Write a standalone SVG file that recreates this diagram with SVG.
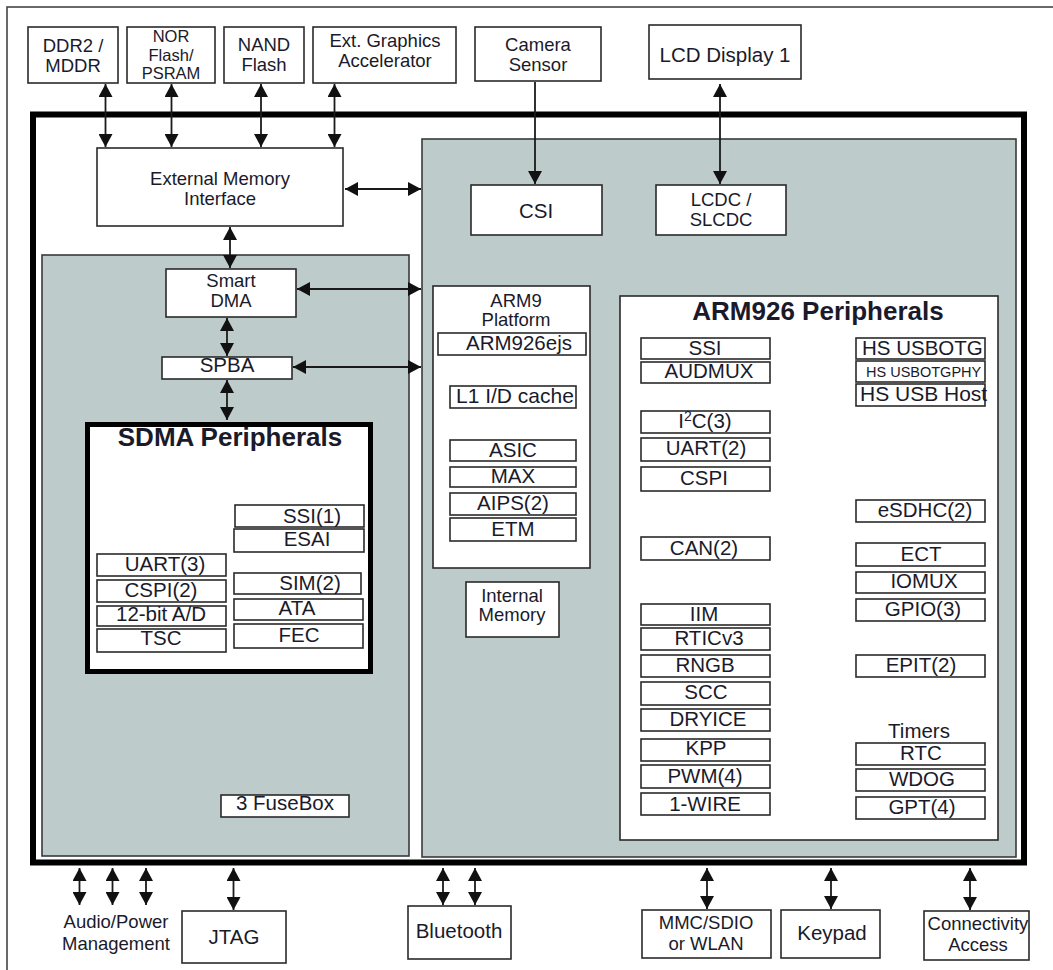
<svg xmlns="http://www.w3.org/2000/svg" width="1053" height="970" viewBox="0 0 1053 970">
<style>
.box{fill:#fff;stroke:#2a2a2a;stroke-width:1.6}
.panel{fill:#becbcb;stroke:#3a3a3a;stroke-width:1.6}
.t{font-family:"Liberation Sans",Arial,Helvetica,sans-serif;font-size:20.5px;fill:#1a1a2a;text-anchor:middle}
.m{font-size:18.5px}
.n{font-size:16.5px}
.s{text-anchor:start}
.b{font-weight:bold;font-size:26px}
.c{stroke:#1a1a1a;stroke-width:1.8;fill:none}
.bi{marker-start:url(#ah);marker-end:url(#ah)}
.one{marker-end:url(#ah)}
</style>
<defs>
<marker id="ah" viewBox="0 0 13 14" refX="13" refY="7" markerWidth="13" markerHeight="14" markerUnits="userSpaceOnUse" orient="auto-start-reverse">
<path d="M0,0 L13,7 L0,14 Z" fill="#111"/>
</marker>
</defs>
<rect width="1053" height="970" fill="#fff"/>
<rect x="7" y="7" width="1080" height="1000" fill="none" stroke="#444" stroke-width="1.6"/>

<g id="chip">
<rect x="33" y="114.5" width="991" height="748" fill="#fff" stroke="#000" stroke-width="6"/>
</g>
<g id="sdma-domain"><rect class="panel" x="42" y="255" width="367" height="601"/></g>
<g id="arm-domain"><rect class="panel" x="422" y="139" width="594" height="718"/></g>

<g id="ddr2"><rect class="box" x="28" y="27" width="90" height="56"/><text class="t m" x="73" y="52">DDR2 /</text><text class="t m" x="73" y="72">MDDR</text></g>
<g id="nor"><rect class="box" x="127" y="27" width="88" height="56"/><text class="t n" x="171" y="42">NOR</text><text class="t n" x="171" y="60.5">Flash/</text><text class="t n" x="171" y="79">PSRAM</text></g>
<g id="nand"><rect class="box" x="224" y="27" width="80" height="56"/><text class="t m" x="264" y="51">NAND</text><text class="t m" x="264" y="71">Flash</text></g>
<g id="extgfx"><rect class="box" x="313" y="27" width="143" height="56"/><text class="t m" x="385" y="47">Ext. Graphics</text><text class="t m" x="385" y="67">Accelerator</text></g>
<g id="camera"><rect class="box" x="475" y="27" width="126" height="54"/><text class="t m" x="538" y="51">Camera</text><text class="t m" x="538" y="71">Sensor</text></g>
<g id="lcd"><rect class="box" x="649" y="25" width="152" height="54"/><text class="t" x="725" y="62">LCD Display 1</text></g>

<g id="emi"><rect class="box" x="97" y="148" width="246" height="78"/><text class="t m" x="220" y="185">External Memory</text><text class="t m" x="220" y="205">Interface</text></g>
<g id="csi"><rect class="box" x="471" y="185" width="131" height="50"/><text class="t" x="536" y="218">CSI</text></g>
<g id="lcdc"><rect class="box" x="656" y="185" width="130" height="50"/><text class="t m" x="721" y="206">LCDC /</text><text class="t m" x="721" y="226">SLCDC</text></g>

<g id="smartdma"><rect class="box" x="166" y="269" width="130" height="48"/><text class="t m" x="231" y="287">Smart</text><text class="t m" x="231" y="307">DMA</text></g>
<g id="spba"><rect class="box" x="162" y="357" width="130" height="22"/><text class="t" x="227" y="372">SPBA</text></g>

<g id="sdma-periph">
<rect x="87.5" y="424.5" width="283" height="247" fill="#fff" stroke="#000" stroke-width="5"/>
<text class="t b" x="230" y="446">SDMA Peripherals</text>
</g>
<g id="ssi1"><rect class="box" x="235" y="505" width="129" height="22"/><text class="t" x="312" y="523">SSI(1)</text></g>
<g id="esai"><rect class="box" x="234" y="529" width="130" height="23"/><text class="t" x="307" y="546">ESAI</text></g>
<g id="uart3"><rect class="box" x="97" y="554" width="129" height="22"/><text class="t" x="165" y="571">UART(3)</text></g>
<g id="cspi2"><rect class="box" x="97" y="580" width="129" height="22"/><text class="t" x="161" y="597">CSPI(2)</text></g>
<g id="adc"><rect class="box" x="97" y="606" width="129" height="20"/><text class="t" x="161" y="621">12-bit A/D</text></g>
<g id="tsc"><rect class="box" x="97" y="629" width="129" height="23"/><text class="t" x="161" y="645">TSC</text></g>
<g id="sim2"><rect class="box" x="234" y="573" width="127" height="21"/><text class="t" x="310" y="590">SIM(2)</text></g>
<g id="ata"><rect class="box" x="234" y="599" width="129" height="21"/><text class="t" x="297" y="615">ATA</text></g>
<g id="fec"><rect class="box" x="234" y="624" width="129" height="24"/><text class="t" x="299" y="642">FEC</text></g>
<g id="fusebox"><rect class="box" x="221" y="795" width="128" height="22"/><text class="t" x="285" y="810">3 FuseBox</text></g>

<g id="arm9"><rect class="box" x="433" y="286" width="157" height="282"/><text class="t m" x="516" y="307">ARM9</text><text class="t m" x="516" y="326">Platform</text></g>
<g id="arm926ejs"><rect class="box" x="438" y="333" width="148" height="22"/><text class="t" x="519" y="350">ARM926ejs</text></g>
<g id="l1cache"><rect class="box" x="450" y="386" width="126" height="22"/><text class="t s" x="456" y="403" style="font-size:21px">L1 I/D cache</text></g>
<g id="asic"><rect class="box" x="450" y="440" width="126" height="21"/><text class="t" x="513" y="457">ASIC</text></g>
<g id="max"><rect class="box" x="450" y="467" width="126" height="20"/><text class="t" x="513" y="483">MAX</text></g>
<g id="aips"><rect class="box" x="450" y="493" width="126" height="22"/><text class="t" x="513" y="510">AIPS(2)</text></g>
<g id="etm"><rect class="box" x="450" y="518" width="126" height="23"/><text class="t" x="513" y="536">ETM</text></g>
<g id="intmem"><rect class="box" x="466" y="582" width="93" height="55"/><text class="t m" x="512" y="602">Internal</text><text class="t m" x="512" y="621">Memory</text></g>

<g id="arm926-periph"><rect class="box" x="620" y="296" width="378" height="544"/><text class="t b" x="818" y="320">ARM926 Peripherals</text></g>
<g id="ssi"><rect class="box" x="641" y="338" width="129" height="21"/><text class="t" x="705" y="355">SSI</text></g>
<g id="audmux"><rect class="box" x="641" y="362" width="129" height="21"/><text class="t" x="709" y="378">AUDMUX</text></g>
<g id="i2c"><rect class="box" x="641" y="411" width="129" height="22"/><text class="t" x="705" y="428">I<tspan font-size="14" dy="-7">2</tspan><tspan dy="7">C(3)</tspan></text></g>
<g id="uart2"><rect class="box" x="641" y="438" width="129" height="23"/><text class="t" x="706" y="455">UART(2)</text></g>
<g id="cspi"><rect class="box" x="641" y="467" width="129" height="24"/><text class="t" x="704" y="485">CSPI</text></g>
<g id="can2"><rect class="box" x="641" y="537" width="129" height="23"/><text class="t" x="704" y="555">CAN(2)</text></g>
<g id="iim"><rect class="box" x="641" y="604" width="129" height="21"/><text class="t" x="704" y="621">IIM</text></g>
<g id="rtic"><rect class="box" x="641" y="628" width="129" height="22"/><text class="t" x="709" y="645">RTICv3</text></g>
<g id="rngb"><rect class="box" x="641" y="655" width="129" height="22"/><text class="t" x="705" y="672">RNGB</text></g>
<g id="scc"><rect class="box" x="641" y="682" width="129" height="23"/><text class="t" x="706" y="699">SCC</text></g>
<g id="dryice"><rect class="box" x="641" y="709" width="129" height="22"/><text class="t" x="708" y="726">DRYICE</text></g>
<g id="kpp"><rect class="box" x="641" y="739" width="129" height="22"/><text class="t" x="706" y="755">KPP</text></g>
<g id="pwm"><rect class="box" x="641" y="765" width="129" height="23"/><text class="t" x="705" y="783">PWM(4)</text></g>
<g id="onewire"><rect class="box" x="641" y="793" width="129" height="22"/><text class="t" x="705" y="811">1-WIRE</text></g>

<g id="usbotg"><rect class="box" x="856" y="338" width="129" height="21"/><text class="t s" x="862" y="355">HS USBOTG</text></g>
<g id="usbotgphy"><rect class="box" x="856" y="361" width="129" height="21"/><text class="t s" x="866" y="377" style="font-size:14.5px">HS USBOTGPHY</text></g>
<g id="usbhost"><rect class="box" x="856" y="384" width="129" height="22"/><text class="t s" x="860" y="401" style="font-size:21px">HS USB Host</text></g>
<g id="esdhc"><rect class="box" x="856" y="500" width="129" height="22"/><text class="t" x="925" y="517">eSDHC(2)</text></g>
<g id="ect"><rect class="box" x="856" y="543" width="129" height="23"/><text class="t" x="921" y="561">ECT</text></g>
<g id="iomux"><rect class="box" x="856" y="572" width="129" height="21"/><text class="t" x="924" y="588">IOMUX</text></g>
<g id="gpio"><rect class="box" x="856" y="599" width="129" height="22"/><text class="t" x="923" y="616">GPIO(3)</text></g>
<g id="epit"><rect class="box" x="856" y="655" width="129" height="22"/><text class="t" x="921" y="672">EPIT(2)</text></g>
<g id="timers"><text class="t" x="919" y="738">Timers</text></g>
<g id="rtc"><rect class="box" x="856" y="743" width="129" height="22"/><text class="t" x="921" y="760">RTC</text></g>
<g id="wdog"><rect class="box" x="856" y="769" width="129" height="22"/><text class="t" x="922" y="786">WDOG</text></g>
<g id="gpt"><rect class="box" x="856" y="797" width="129" height="22"/><text class="t" x="922" y="814">GPT(4)</text></g>

<g id="audio"><text class="t m" x="116" y="928">Audio/Power</text><text class="t m" x="116" y="950">Management</text></g>
<g id="jtag"><rect class="box" x="182" y="911" width="104" height="52"/><text class="t" x="234" y="944">JTAG</text></g>
<g id="bluetooth"><rect class="box" x="408" y="906" width="103" height="53"/><text class="t" x="459" y="938">Bluetooth</text></g>
<g id="mmc"><rect class="box" x="642" y="910" width="129" height="48"/><text class="t m" x="706" y="929">MMC/SDIO</text><text class="t m" x="706" y="950">or WLAN</text></g>
<g id="keypad"><rect class="box" x="781" y="910" width="99" height="48"/><text class="t" x="832" y="940">Keypad</text></g>
<g id="connectivity"><rect class="box" x="924" y="911" width="105" height="49"/><text class="t m" x="978" y="930">Connectivity</text><text class="t m" x="978" y="951">Access</text></g>

<g id="connectors">
<line class="c bi" x1="105.5" y1="84" x2="105.5" y2="147"/>
<line class="c bi" x1="171.5" y1="84" x2="171.5" y2="147"/>
<line class="c bi" x1="261" y1="84" x2="261" y2="147"/>
<line class="c bi" x1="334.5" y1="84" x2="334.5" y2="147"/>
<line class="c bi" x1="345" y1="189" x2="421" y2="189"/>
<line class="c bi" x1="230" y1="227" x2="230" y2="268"/>
<line class="c bi" x1="297" y1="289" x2="421" y2="289"/>
<line class="c bi" x1="227" y1="318" x2="227" y2="356"/>
<line class="c bi" x1="293" y1="367" x2="421" y2="367"/>
<line class="c bi" x1="227" y1="380" x2="227" y2="420"/>
<line class="c one" x1="535" y1="82" x2="535" y2="184"/>
<line class="c bi" x1="720" y1="84" x2="720" y2="184"/>
<line class="c bi" x1="79.5" y1="868" x2="79.5" y2="905"/>
<line class="c bi" x1="112.5" y1="868" x2="112.5" y2="905"/>
<line class="c bi" x1="146" y1="868" x2="146" y2="905"/>
<line class="c bi" x1="233.5" y1="868" x2="233.5" y2="910"/>
<line class="c bi" x1="443" y1="868" x2="443" y2="905"/>
<line class="c bi" x1="475" y1="868" x2="475" y2="905"/>
<line class="c bi" x1="707" y1="868" x2="707" y2="909"/>
<line class="c bi" x1="831" y1="868" x2="831" y2="909"/>
<line class="c bi" x1="970" y1="868" x2="970" y2="910"/>
</g>
</svg>
